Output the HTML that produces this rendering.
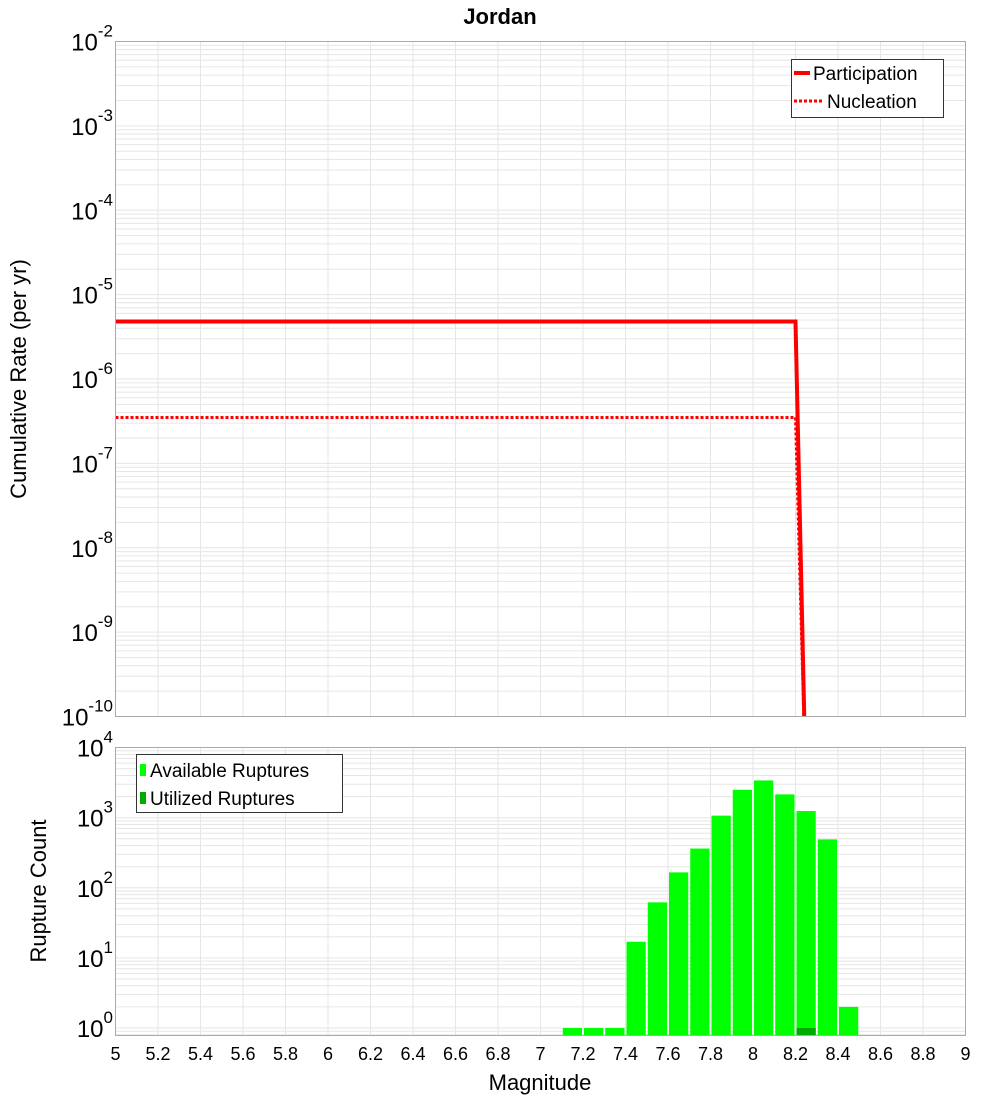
<!DOCTYPE html>
<html><head><meta charset="utf-8"><style>
body{margin:0;background:#fff;}
svg text{font-family:"Liberation Sans","DejaVu Sans",sans-serif;}
</style></head><body>
<svg id="chart" width="1000" height="1100" xmlns="http://www.w3.org/2000/svg">
<rect width="1000" height="1100" fill="#fff"/>
<text x="500" y="24" text-anchor="middle" font-size="22" font-weight="bold">Jordan</text>
<g id="topPanel"></g>
<g id="botPanel"></g>
</svg>
<script>
var magPts = [5, 8.2, 8.25];
var partRates = [4.8e-6, 4.8e-6, 1e-11];
var nuclRates = [3.5e-7, 3.5e-7, 1e-11];
var binStarts = [7.1,7.2,7.3,7.4,7.5,7.6,7.7,7.8,7.9,8.0,8.1,8.2,8.3,8.4];
var availCounts = [1,1,1,17,62,166,363,1070,2500,3400,2150,1245,490,2];
var usedCounts = [0,0,0,0,0,0,0,0,0,0,0,1,0,0];
var xTicks = [5,5.2,5.4,5.6,5.8,6,6.2,6.4,6.6,6.8,7,7.2,7.4,7.6,7.8,8,8.2,8.4,8.6,8.8,9];

(function(){
var NS="http://www.w3.org/2000/svg";
function mk(parent,tag,attrs){var e=document.createElementNS(NS,tag);for(var k in attrs)e.setAttribute(k,attrs[k]);parent.appendChild(e);return e;}
var X0=115.5,X1=965.5;
function xs(m){return X0+(m-5)/4*(X1-X0);}
var T0=41.5,T1=716.5;
function yTop(v){return T1-(Math.log10(v)+10)/8*(T1-T0);}
var B0=747.5,B1=1035.5;
function yBot(v){return 1028-Math.log10(v)*70.1;}

function grid(g,y0,y1,decades,yf){
  for(var i=0;i<=20;i++){var x=xs(5+i*0.2);var l=mk(g,'line',{x1:x,x2:x,y1:y0,y2:y1,stroke:'#e6e6e6','stroke-width':1});
  
  }
  decades.forEach(function(d){for(var k=1;k<10;k++){var y=yf(k*Math.pow(10,d));if(y<y0-0.5||y>y1+0.5)continue;var l=mk(g,'line',{x1:X0,x2:X1,y1:y,y2:y,stroke:'#e6e6e6','stroke-width':1});
  
  }});
}
function yLabel(g,y,exp){
  var t=mk(g,'text',{x:113,y:y+9,'text-anchor':'end','font-size':24});
  
  
  var a=mk(t,'tspan',{});a.textContent='10';
  var b=mk(t,'tspan',{dy:-14,'font-size':17});b.textContent=String(exp);
}
var topG=document.getElementById('topPanel');
grid(topG,T0,T1,[-10,-9,-8,-7,-6,-5,-4,-3],yTop);
for(var e=-10;e<=-2;e++)yLabel(topG,yTop(Math.pow(10,e)),e);
var clip=mk(topG,'clipPath',{id:'cp'});mk(clip,'rect',{x:X0,y:T0,width:X1-X0,height:T1-T0});
function line(vals,dash,name){
  var p=mk(topG,'polyline',{points:magPts.map(function(m,i){return xs(m)+','+yTop(vals[i]);}).join(' '),fill:'none',stroke:'#ff0000','stroke-width':dash?3:4,'clip-path':'url(#cp)'});
  if(dash)p.setAttribute('stroke-dasharray','3,2');
  
  
}
line(partRates,false,'participation-line');
line(nuclRates,true,'nucleation-line');
var tf=mk(topG,'rect',{x:X0,y:T0,width:X1-X0,height:T1-T0,fill:'none',stroke:'#aaa'});


var lg=mk(topG,'g',{});


mk(lg,'rect',{x:791.5,y:59.5,width:152,height:58,fill:'#fff',stroke:'#333'});
mk(lg,'line',{x1:794,x2:810,y1:73,y2:73,stroke:'#f00','stroke-width':4});
mk(lg,'line',{x1:794,x2:822,y1:101,y2:101,stroke:'#f00','stroke-width':3,'stroke-dasharray':'3,2'});
var l1=mk(lg,'text',{x:813,y:80,'font-size':19});l1.textContent='Participation';
var l2=mk(lg,'text',{x:827,y:108,'font-size':19});l2.textContent='Nucleation';
var yt=mk(topG,'text',{x:26,y:379,'font-size':22,'text-anchor':'middle',transform:'rotate(-90 26 379)'});


yt.textContent='Cumulative Rate (per yr)';

var botG=document.getElementById('botPanel');
grid(botG,B0,B1,[-1,0,1,2,3],yBot);
for(var e2=0;e2<=4;e2++)yLabel(botG,yBot(Math.pow(10,e2)),e2);
binStarts.forEach(function(s,i){
  var x=xs(s)+1,w=xs(s+0.1)-xs(s)-2;
  var y=yBot(availCounts[i]);
  var r=mk(botG,'rect',{x:x,y:y,width:w,height:B1-y,fill:'#00ff00'});
  
  
  if(usedCounts[i]>0){var y2=yBot(usedCounts[i]);var u=mk(botG,'rect',{x:x,y:y2,width:w,height:B1-y2,fill:'#00aa00'});
  
  }
});
var bf=mk(botG,'rect',{x:X0,y:B0,width:X1-X0,height:B1-B0,fill:'none',stroke:'#aaa'});


xTicks.forEach(function(m){var t=mk(botG,'text',{x:xs(m),y:1060,'text-anchor':'middle','font-size':18});
  
  
  t.textContent=String(m);});
var lg2=mk(botG,'g',{});


mk(lg2,'rect',{x:136.5,y:754.5,width:206,height:58,fill:'#fff',stroke:'#333'});
mk(lg2,'rect',{x:140,y:764,width:6,height:12,fill:'#00ff00'});
mk(lg2,'rect',{x:140,y:792,width:6,height:12,fill:'#00aa00'});
var a1=mk(lg2,'text',{x:150,y:777,'font-size':19});a1.textContent='Available Ruptures';
var a2=mk(lg2,'text',{x:150,y:805,'font-size':19});a2.textContent='Utilized Ruptures';
var yt2=mk(botG,'text',{x:46,y:891,'font-size':22,'text-anchor':'middle',transform:'rotate(-90 46 891)'});


yt2.textContent='Rupture Count';
var xt=mk(botG,'text',{x:540,y:1090,'font-size':22,'text-anchor':'middle'});


xt.textContent='Magnitude';
})();
</script>
</body></html>
